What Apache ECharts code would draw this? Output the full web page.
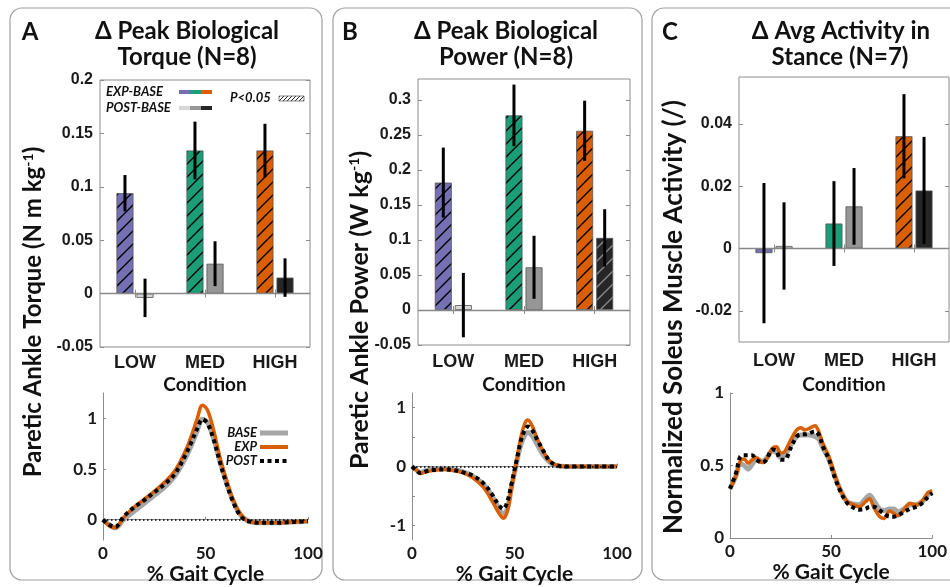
<!DOCTYPE html>
<html>
<head>
<meta charset="utf-8">
<script src="https://cdn.jsdelivr.net/npm/echarts@6/dist/echarts.min.js"></script>
<style>
  html, body { margin: 0; padding: 0; background: #fff; }
  #chart { width: 950px; height: 587px; }
</style>
</head>
<body>
<div id="chart"></div>
<script>
var conditions = ['LOW', 'MED', 'HIGH'];

// A: delta peak biological torque (N m kg-1), mean and sd
var torqueExpMean = [0.094, 0.134, 0.134];
var torqueExpSd = [0.017, 0.027, 0.025];
var torquePostMean = [-0.004, 0.028, 0.015];
var torquePostSd = [0.018, 0.021, 0.018];
var torqueExpSig = [true, true, true];
var torquePostSig = [false, false, false];

// B: delta peak biological power (W kg-1)
var powerExpMean = [0.182, 0.278, 0.256];
var powerExpSd = [0.050, 0.044, 0.043];
var powerPostMean = [0.007, 0.061, 0.103];
var powerPostSd = [0.046, 0.045, 0.041];
var powerExpSig = [true, true, true];
var powerPostSig = [false, false, true];

// C: delta avg soleus activity in stance
var emgExpMean = [-0.0015, 0.008, 0.036];
var emgExpSd = [0.0225, 0.0136, 0.0135];
var emgPostMean = [0.0008, 0.0135, 0.0186];
var emgPostSd = [0.014, 0.0123, 0.0172];
var emgExpSig = [false, false, true];
var emgPostSig = [false, false, false];

// tick labels
var torqueTicks = [-0.05, 0, 0.05, 0.1, 0.15, 0.2];
var powerTicks = [-0.05, 0, 0.05, 0.1, 0.15, 0.2, 0.25, 0.3];
var emgTicks = [-0.02, 0, 0.02, 0.04];
var gaitTicks = [0, 50, 100];
var torqueCurveTicks = [0, 0.5, 1];
var powerCurveTicks = [-1, 0, 1];
var powerCurveMinor = [-1, -0.5, 0, 0.5, 1];
var emgCurveTicks = [0, 0.5, 1];

// normalized curves over the gait cycle
var torqueGait = [0, 3, 6, 10, 15, 20, 25, 30, 35, 40, 43, 46, 48.5, 51, 54, 57, 60, 63, 66, 69, 72, 76, 80, 85, 90, 95, 100];
var torqueBase = [0, -0.05, -0.08, 0.0, 0.08, 0.16, 0.24, 0.32, 0.43, 0.6, 0.73, 0.88, 0.99, 0.96, 0.8, 0.58, 0.38, 0.21, 0.08, 0.01, -0.02, -0.03, -0.03, -0.03, -0.025, -0.02, -0.015];
var torqueExp = [0, -0.06, -0.08, 0.02, 0.12, 0.2, 0.28, 0.37, 0.48, 0.67, 0.82, 1.0, 1.13, 1.08, 0.88, 0.62, 0.41, 0.22, 0.09, 0.01, -0.02, -0.03, -0.03, -0.03, -0.025, -0.02, -0.015];
var torquePost = [0, -0.05, -0.07, 0.03, 0.12, 0.19, 0.27, 0.35, 0.45, 0.63, 0.76, 0.9, 0.99, 0.95, 0.79, 0.57, 0.37, 0.2, 0.07, 0.0, -0.02, -0.03, -0.03, -0.03, -0.025, -0.02, -0.015];

var powerGait = [0, 2, 4, 7, 10, 15, 20, 25, 30, 35, 39, 42, 44.5, 46.5, 48.5, 51, 53, 55, 56.5, 58.5, 61, 64, 67, 70, 75, 80, 90, 100];
var powerBase = [0, -0.05, -0.1, -0.07, -0.04, -0.03, -0.05, -0.09, -0.17, -0.31, -0.5, -0.69, -0.81, -0.72, -0.36, 0.06, 0.36, 0.53, 0.58, 0.53, 0.38, 0.2, 0.08, 0.02, 0, 0, 0, 0];
var powerExp = [0, -0.06, -0.12, -0.09, -0.07, -0.05, -0.07, -0.11, -0.2, -0.36, -0.58, -0.77, -0.88, -0.76, -0.36, 0.09, 0.48, 0.73, 0.79, 0.7, 0.48, 0.26, 0.1, 0.03, 0, 0, 0, 0];
var powerPost = [0, -0.06, -0.11, -0.08, -0.06, -0.05, -0.06, -0.1, -0.16, -0.29, -0.47, -0.64, -0.72, -0.6, -0.3, 0.1, 0.42, 0.62, 0.68, 0.63, 0.46, 0.27, 0.1, 0.03, 0, 0, 0, 0];

var emgGait = [0, 3, 5, 7, 9, 11, 13, 16, 18, 21, 23, 25, 27, 30, 33, 35, 37, 39, 42, 44, 46, 49, 52, 55, 58, 61, 64, 67, 69, 71, 74, 76, 79, 81, 83, 86, 89, 92, 95, 98, 100];
var emgBase = [0.34, 0.43, 0.51, 0.5, 0.475, 0.51, 0.54, 0.53, 0.55, 0.6, 0.59, 0.555, 0.57, 0.64, 0.7, 0.71, 0.71, 0.71, 0.7, 0.68, 0.62, 0.54, 0.42, 0.32, 0.25, 0.235, 0.23, 0.27, 0.295, 0.26, 0.2, 0.19, 0.2, 0.2, 0.18, 0.2, 0.23, 0.23, 0.25, 0.3, 0.32];
var emgExp = [0.34, 0.43, 0.53, 0.545, 0.515, 0.54, 0.555, 0.52, 0.54, 0.62, 0.63, 0.585, 0.595, 0.675, 0.745, 0.76, 0.745, 0.755, 0.775, 0.73, 0.65, 0.56, 0.43, 0.32, 0.25, 0.23, 0.215, 0.25, 0.27, 0.215, 0.147, 0.135, 0.186, 0.17, 0.154, 0.193, 0.24, 0.228, 0.255, 0.315, 0.325];
var emgPost = [0.34, 0.45, 0.56, 0.57, 0.57, 0.57, 0.54, 0.52, 0.54, 0.61, 0.6, 0.54, 0.54, 0.62, 0.7, 0.715, 0.715, 0.72, 0.735, 0.71, 0.63, 0.54, 0.41, 0.31, 0.24, 0.21, 0.195, 0.2, 0.215, 0.215, 0.19, 0.17, 0.147, 0.147, 0.155, 0.18, 0.2, 0.215, 0.24, 0.285, 0.31];

var expColors = ['#7570b3', '#1b9e77', '#d95f02'];
var postColors = ['#d9d9d9', '#969696', '#262626'];
var baseLineColor = '#a6a6a6';
var expLineColor = '#d95f02';
var axisGray = '#8c8c8c';
var BAR_W = 17;
var BAR_GAP = 0.18;

var TXT = 'Lato';
var NUM = 'Liberation Sans';

function hatch(bg, lineColor, step, lw) {
  var c = document.createElement('canvas');
  c.width = step; c.height = step;
  var g = c.getContext('2d');
  g.fillStyle = bg;
  g.fillRect(0, 0, step, step);
  g.strokeStyle = lineColor;
  g.lineWidth = lw;
  g.beginPath();
  g.moveTo(0, step); g.lineTo(step, 0);
  g.moveTo(-2, 2); g.lineTo(2, -2);
  g.moveTo(step - 2, step + 2); g.lineTo(step + 2, step - 2);
  g.stroke();
  return { image: c, repeat: 'repeat' };
}

function fmt(v) { return String(+(+v).toFixed(4)); }

function zip(xs, ys) {
  return xs.map(function (x, i) { return [x, ys[i]]; });
}

var panels = [
  {
    expMean: torqueExpMean, expSd: torqueExpSd, postMean: torquePostMean, postSd: torquePostSd,
    expSig: torqueExpSig, postSig: torquePostSig, barMin: -0.05, barMax: 0.2, barStep: 0.05, barTicks: torqueTicks,
    gait: torqueGait, base: torqueBase, exp: torqueExp, post: torquePost,
    curveMin: -0.2, curveMax: 1.25, curveStep: 0.1, curveTicks: torqueCurveTicks, curveMinor: torqueCurveTicks,
    zeroLine: true, catMargin: 7, condGap: 28,
    top: { left: 100, top: 80, width: 210, height: 267 },
    bot: { left: 103, top: 393, width: 205, height: 147 }
  },
  {
    expMean: powerExpMean, expSd: powerExpSd, postMean: powerPostMean, postSd: powerPostSd,
    expSig: powerExpSig, postSig: powerPostSig, barMin: -0.05, barMax: 0.33, barStep: 0.05, barTicks: powerTicks,
    gait: powerGait, base: powerBase, exp: powerExp, post: powerPost,
    curveMin: -1.25, curveMax: 1.25, curveStep: 0.25, curveTicks: powerCurveTicks, curveMinor: powerCurveMinor,
    zeroLine: true, catMargin: 8, condGap: 30,
    top: { left: 418, top: 79, width: 212, height: 266 },
    bot: { left: 412, top: 393, width: 205, height: 147 }
  },
  {
    expMean: emgExpMean, expSd: emgExpSd, postMean: emgPostMean, postSd: emgPostSd,
    expSig: emgExpSig, postSig: emgPostSig, barMin: -0.03, barMax: 0.055, barStep: 0.01, barTicks: emgTicks,
    gait: emgGait, base: emgBase, exp: emgExp, post: emgPost,
    curveMin: 0, curveMax: 1, curveStep: 0.1, curveTicks: emgCurveTicks, curveMinor: emgCurveTicks,
    zeroLine: false, catMargin: 10, condGap: 33,
    top: { left: 739, top: 77, width: 210, height: 265 },
    bot: { left: 730, top: 393, width: 205, height: 145 }
  }
];

var grids = [], xAxes = [], yAxes = [], series = [];

panels.forEach(function (p, k) {
  grids[k] = Object.assign({ show: true, borderColor: axisGray, borderWidth: 1, backgroundColor: 'transparent' }, p.top);
  grids[3 + k] = Object.assign({ show: false }, p.bot);
});

function catTick() {
  return { show: true, inside: true, alignWithLabel: true, length: 4, lineStyle: { color: axisGray } };
}

var curveLabelStyle = { fontFamily: TXT, fontWeight: 'bold', fontSize: 17, color: '#1a1a1a' };

panels.forEach(function (p, k) {
  xAxes[2 * k] = {
    gridIndex: k, type: 'category', data: conditions, position: 'bottom',
    axisLine: { show: false }, axisTick: catTick(),
    axisLabel: { fontFamily: NUM, fontWeight: 'bold', fontSize: 18, color: '#1a1a1a', margin: p.catMargin },
    name: 'Condition', nameLocation: 'middle', nameGap: p.condGap,
    nameTextStyle: { fontFamily: TXT, fontWeight: 'bold', fontSize: 19, color: '#111' }
  };
  xAxes[2 * k + 1] = {
    gridIndex: k, type: 'category', data: conditions, position: 'top',
    axisLine: { show: false }, axisTick: catTick(), axisLabel: { show: false }
  };
  yAxes[2 * k] = {
    gridIndex: k, type: 'value', min: p.barMin, max: p.barMax, interval: p.barStep, position: 'left',
    axisLine: { show: false }, splitLine: { show: false },
    axisTick: { show: true, inside: true, length: 4, customValues: p.barTicks.slice(), lineStyle: { color: axisGray } },
    axisLabel: { customValues: p.barTicks.slice(), formatter: fmt, fontFamily: NUM, fontWeight: 'bold', fontSize: 16, color: '#1a1a1a', margin: 7, hideOverlap: false }
  };
  yAxes[2 * k + 1] = {
    gridIndex: k, type: 'value', min: p.barMin, max: p.barMax, interval: p.barStep, position: 'right',
    axisLine: { show: false }, splitLine: { show: false },
    axisTick: { show: true, inside: true, length: 4, customValues: p.barTicks.slice(), lineStyle: { color: axisGray } },
    axisLabel: { show: false }
  };
  xAxes[6 + k] = {
    gridIndex: 3 + k, type: 'value', min: 0, max: 100, interval: 10,
    axisLine: { show: true, lineStyle: { color: axisGray } }, splitLine: { show: false },
    axisTick: { show: true, inside: true, length: 3, customValues: gaitTicks.slice(), lineStyle: { color: axisGray } },
    axisLabel: Object.assign({ customValues: gaitTicks.slice(), margin: 5 }, curveLabelStyle),
    name: '% Gait Cycle', nameLocation: 'middle', nameGap: 24,
    nameTextStyle: { fontFamily: TXT, fontWeight: 'bold', fontSize: 21, color: '#111' }
  };
  yAxes[6 + k] = {
    gridIndex: 3 + k, type: 'value', min: p.curveMin, max: p.curveMax, interval: p.curveStep,
    axisLine: { show: true, lineStyle: { color: axisGray } }, splitLine: { show: false },
    axisTick: { show: true, inside: true, length: 3, customValues: p.curveMinor.slice(), lineStyle: { color: axisGray } },
    axisLabel: Object.assign({ customValues: p.curveTicks.slice(), formatter: fmt, margin: 6, hideOverlap: false }, curveLabelStyle)
  };

  function barData(means, sig, colors, lineCol) {
    return means.map(function (v, i) {
      return { value: v, itemStyle: { color: sig[i] ? hatch(colors[i], lineCol[i], 13, 1.4) : colors[i] } };
    });
  }
  var blackLines = ['#000', '#000', '#000'];
  var postLines = ['#000', '#000', '#8a8a8a'];

  series.push({
    type: 'bar', xAxisIndex: 2 * k, yAxisIndex: 2 * k,
    barWidth: BAR_W, barGap: (BAR_GAP * 100) + '%',
    itemStyle: { borderColor: '#555', borderWidth: 0.8 },
    data: barData(p.expMean, p.expSig, expColors, blackLines),
    markLine: {
      silent: true, symbol: ['none', 'none'], label: { show: false },
      lineStyle: { color: '#888', width: 1.3, type: 'solid' },
      data: [{ yAxis: 0 }]
    }
  });
  series.push({
    type: 'bar', xAxisIndex: 2 * k, yAxisIndex: 2 * k,
    barWidth: BAR_W, barGap: (BAR_GAP * 100) + '%',
    itemStyle: { borderColor: '#555', borderWidth: 0.8 },
    data: barData(p.postMean, p.postSig, postColors, postLines)
  });

  var errRows = [];
  p.expMean.forEach(function (m, i) { errRows.push([i, m, p.expSd[i], -1]); });
  p.postMean.forEach(function (m, i) { errRows.push([i, m, p.postSd[i], 1]); });
  series.push({
    type: 'custom', xAxisIndex: 2 * k, yAxisIndex: 2 * k, z: 10,
    data: errRows,
    renderItem: function (params, api) {
      var c = api.value(0), m = api.value(1), s = api.value(2), side = api.value(3);
      var lo = api.coord([c, m - s]);
      var hi = api.coord([c, m + s]);
      var dx = side * BAR_W * (1 + BAR_GAP) / 2;
      return {
        type: 'line',
        shape: { x1: lo[0] + dx, y1: lo[1], x2: hi[0] + dx, y2: hi[1] },
        style: { stroke: '#000', lineWidth: 3 }
      };
    }
  });

  var baseSeries = {
    type: 'line', xAxisIndex: 6 + k, yAxisIndex: 6 + k, name: 'BASE',
    data: zip(p.gait, p.base), showSymbol: false, smooth: 0.35,
    lineStyle: { color: baseLineColor, width: 5 }
  };
  if (p.zeroLine) {
    baseSeries.markLine = {
      silent: true, symbol: ['none', 'none'], label: { show: false },
      lineStyle: { color: '#000', width: 1.5, type: [1.5, 2.5] },
      data: [{ yAxis: 0 }]
    };
  }
  series.push(baseSeries);
  series.push({
    type: 'line', xAxisIndex: 6 + k, yAxisIndex: 6 + k, name: 'EXP',
    data: zip(p.gait, p.exp), showSymbol: false, smooth: 0.35,
    lineStyle: { color: expLineColor, width: 3.5 }
  });
  series.push({
    type: 'line', xAxisIndex: 6 + k, yAxisIndex: 6 + k, name: 'POST',
    data: zip(p.gait, p.post), showSymbol: false, smooth: 0.35,
    lineStyle: { color: '#000', width: 4, type: [4, 3.5], cap: 'butt' }
  });
});

function txt(text, x, y, size, opts) {
  opts = opts || {};
  return {
    type: 'text', x: x, y: y, rotation: opts.rotation || 0, z: 20,
    style: {
      text: text, fontFamily: opts.family || TXT, fontWeight: 'bold', fontStyle: opts.italic ? 'italic' : 'normal',
      fontSize: size, fill: opts.fill || '#111', align: opts.align || 'center', verticalAlign: 'middle',
      rich: opts.rich
    }
  };
}

var supRich = { sup: { fontFamily: TXT, fontWeight: 'bold', fontSize: 14, fill: '#111', verticalAlign: 'top' } };

var graphics = [
  { type: 'rect', shape: { x: 10, y: 8, width: 312, height: 572, r: 12 }, style: { fill: 'none', stroke: '#a0a0a0', lineWidth: 1.2 } },
  { type: 'rect', shape: { x: 333, y: 8, width: 309, height: 572, r: 12 }, style: { fill: 'none', stroke: '#a0a0a0', lineWidth: 1.2 } },
  { type: 'rect', shape: { x: 652, y: 8, width: 310, height: 572, r: 12 }, style: { fill: 'none', stroke: '#a0a0a0', lineWidth: 1.2 } },
  txt('A', 30, 32, 24), txt('B', 350, 32, 24), txt('C', 670, 32, 24),
  txt('\u0394 Peak Biological', 187, 31, 24), txt('Torque (N=8)', 187, 57, 24),
  txt('\u0394 Peak Biological', 506, 31, 24), txt('Power (N=8)', 506, 57, 24),
  txt('\u0394 Avg Activity in', 841, 31, 24), txt('Stance (N=7)', 840, 57, 24),
  txt('Paretic Ankle Torque (N m kg{sup|-1})', 33, 312, 24, { rotation: Math.PI / 2, rich: supRich }),
  txt('Paretic Ankle Power (W kg{sup|-1})', 360, 310, 25, { rotation: Math.PI / 2, rich: supRich }),
  txt('Normalized Soleus Muscle Activity (/)', 674, 317, 26, { rotation: Math.PI / 2 }),
  // bar legend in A
  txt('EXP-BASE', 106, 92, 13, { italic: true, align: 'left' }),
  txt('POST-BASE', 106, 108, 13, { italic: true, align: 'left' }),
  txt('P<0.05', 230, 98, 13, { italic: true, align: 'left' }),
  { type: 'rect', shape: { x: 279, y: 96, width: 25, height: 5 }, style: { fill: hatch('#ffffff', '#222', 4, 1), stroke: '#666', lineWidth: 0.8 }, z: 20 },
  // curve legend in A
  txt('BASE', 257, 433, 13, { italic: true, align: 'right' }),
  txt('EXP', 257, 447, 13, { italic: true, align: 'right' }),
  txt('POST', 257, 461, 13, { italic: true, align: 'right' }),
  { type: 'line', shape: { x1: 260, y1: 433, x2: 288, y2: 433 }, style: { stroke: baseLineColor, lineWidth: 5 }, z: 20 },
  { type: 'line', shape: { x1: 260, y1: 447, x2: 288, y2: 447 }, style: { stroke: expLineColor, lineWidth: 4 }, z: 20 },
  { type: 'line', shape: { x1: 260, y1: 461, x2: 289, y2: 461 }, style: { stroke: '#000', lineWidth: 4, lineDash: [4, 3.5] }, z: 20 }
];
for (var i = 0; i < 3; i++) {
  graphics.push({ type: 'rect', shape: { x: 179 + i * 11, y: 90, width: 11, height: 4 }, style: { fill: expColors[i] }, z: 20 });
  graphics.push({ type: 'rect', shape: { x: 179 + i * 11, y: 106, width: 11, height: 4 }, style: { fill: postColors[i] }, z: 20 });
}

var chart = echarts.init(document.getElementById('chart'), null, { renderer: 'canvas' });
chart.setOption({
  animation: false,
  backgroundColor: '#fff',
  grid: grids,
  xAxis: xAxes,
  yAxis: yAxes,
  series: series,
  graphic: graphics
});

// some curve-axis tick labels get dropped by the axis layout in this
// multi-grid chart; put back any that are missing, placed with the axis scale
var extra = [];
panels.forEach(function (p, k) {
  p.curveTicks.forEach(function (t) {
    var y = chart.convertToPixel({ yAxisIndex: 6 + k }, t);
    var xAxisLeft = p.bot.left;
    var shown = chart.getZr().storage.getDisplayList(true).some(function (el) {
      if (!el.style || el.style.text !== fmt(t) || el.ignore || el.invisible) return false;
      var r = el.getBoundingRect().clone();
      if (el.transform) r.applyTransform(el.transform);
      return r.x + r.width <= xAxisLeft && r.x + r.width > xAxisLeft - 20 && Math.abs(r.y + r.height / 2 - y) < 6;
    });
    if (!shown) {
      extra.push({
        type: 'text', x: xAxisLeft - 6, y: y, z: 20,
        style: { text: fmt(t), fontFamily: TXT, fontWeight: 'bold', fontSize: 17, fill: '#1a1a1a', align: 'right', verticalAlign: 'middle' }
      });
    }
  });
});
if (extra.length) {
  chart.setOption({ graphic: graphics.concat(extra) });
}
</script>
</body>
</html>
